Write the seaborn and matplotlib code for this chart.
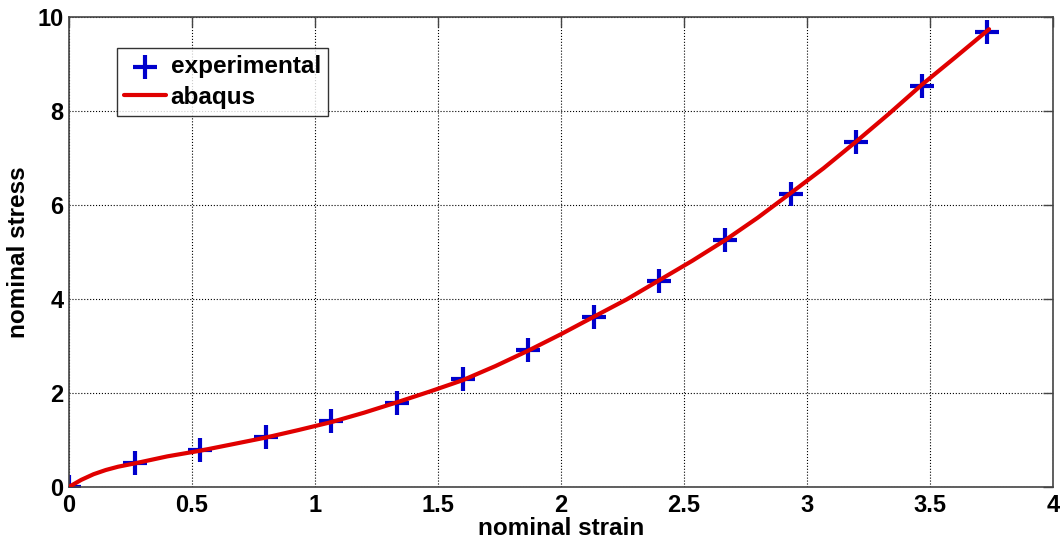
import numpy as np
import pandas as pd
import matplotlib
matplotlib.use("Agg")
import matplotlib.pyplot as plt
import seaborn as sns

# experimental points (nominal strain, nominal stress)
exp_strain = [0.0, 0.267, 0.533, 0.8, 1.067, 1.333, 1.6, 1.867, 2.133, 2.4, 2.667, 2.933, 3.2, 3.467, 3.733]
exp_stress = [0.0, 0.50, 0.79, 1.06, 1.40, 1.79, 2.29, 2.91, 3.62, 4.39, 5.26, 6.23, 7.33, 8.53, 9.67]

# abaqus curve
abq_strain = [0.0, 0.05, 0.1, 0.15, 0.2, 0.267, 0.4, 0.533, 0.667, 0.8, 0.933, 1.067, 1.2, 1.333,
              1.467, 1.6, 1.733, 1.867, 2.0, 2.133, 2.267, 2.4, 2.533, 2.667, 2.8, 2.933,
              3.067, 3.2, 3.333, 3.467, 3.6, 3.74]
abq_stress = [0.0, 0.15, 0.27, 0.36, 0.43, 0.50, 0.65, 0.77, 0.91, 1.05, 1.21, 1.38, 1.58, 1.80,
              2.03, 2.27, 2.57, 2.90, 3.25, 3.62, 3.99, 4.40, 4.81, 5.25, 5.73, 6.25,
              6.78, 7.35, 7.94, 8.56, 9.13, 9.74]

exp_df = pd.DataFrame({"strain": exp_strain, "stress": exp_stress})
abq_df = pd.DataFrame({"strain": abq_strain, "stress": abq_stress})

sns.set_style("white")
plt.rcParams["font.family"] = ["Liberation Sans", "DejaVu Sans"]
plt.rcParams["font.weight"] = "bold"
plt.rcParams["text.color"] = "black"
plt.rcParams["axes.labelcolor"] = "black"
plt.rcParams["xtick.color"] = "black"
plt.rcParams["ytick.color"] = "black"

fig = plt.figure(figsize=(10.61, 5.41), dpi=100)
ax = fig.add_axes([0.065, 0.1, 0.9275, 0.8686])

sns.scatterplot(data=exp_df, x="strain", y="stress", ax=ax, marker="+", s=300,
                linewidth=3, color="#0000cc", label="experimental", zorder=2)
sns.lineplot(data=abq_df, x="strain", y="stress", ax=ax, sort=False, color="#e00000",
             linewidth=3, label="abaqus", zorder=3)

ax.set_xlim(0, 4)
ax.set_ylim(0, 10)
ax.set_xticks(np.arange(0, 4.01, 0.5))
ax.set_xticklabels(["0", "0.5", "1", "1.5", "2", "2.5", "3", "3.5", "4"])
ax.set_yticks(np.arange(0, 10.1, 2))

ax.grid(True, linestyle=":", color="black", linewidth=0.8)
for s in ax.spines.values():
    s.set_color("#444444")
    s.set_linewidth(1.2)
ax.tick_params(direction="in", length=7, width=1, top=True, right=True,
               labelsize=17, pad=4, color="#444444", labelcolor="black")
ax.tick_params(axis="x", pad=5)
for lab in ax.get_xticklabels() + ax.get_yticklabels():
    lab.set_fontweight("bold")

ax.set_xlabel("nominal strain", fontsize=17.5, fontweight="bold", labelpad=0)
ax.set_ylabel("nominal stress", fontsize=17.5, fontweight="bold", labelpad=5)

leg = ax.legend(loc="upper left", bbox_to_anchor=(0.049, 0.934), fontsize=17.5,
                frameon=True, fancybox=False, edgecolor="black", handlelength=1.7,
                handletextpad=0.2, borderpad=0.3, labelspacing=0.3, borderaxespad=0)
leg.get_frame().set_linewidth(1)
for t in leg.get_texts():
    t.set_fontweight("bold")

fig.savefig("out.png", dpi=100)
